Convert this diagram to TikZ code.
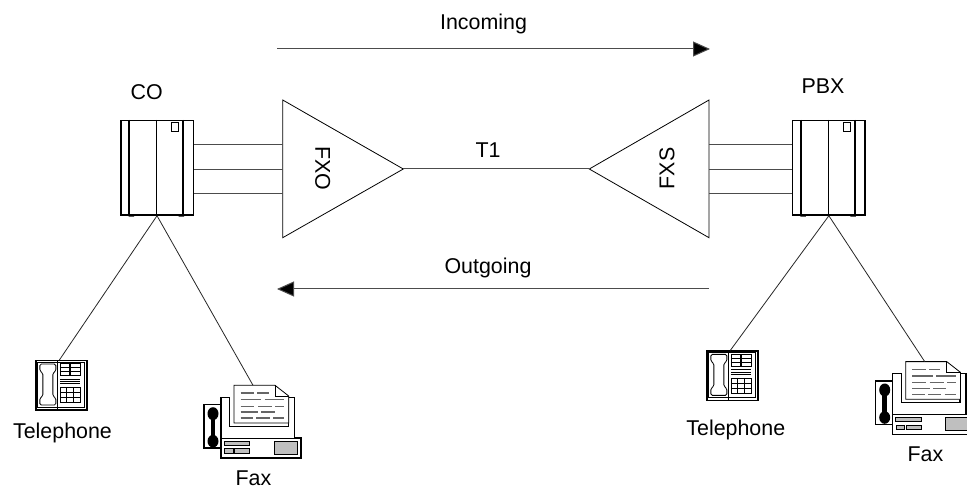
\documentclass[tikz,border=0pt]{standalone}
\usepackage{fontspec}
\setmainfont{Liberation Sans}
\usetikzlibrary{arrows.meta}
\tikzset{
  lbl/.style={font=\fontsize{21.4}{24}\selectfont, inner sep=0pt, anchor=base},
  wire/.style={line width=0.8pt, draw=black!85},
  bus/.style={line width=1pt, draw=black!70},
  flow/.style={line width=1pt, draw=black!70, -{Triangle[length=17pt,width=15pt,fill=black]}},
  cab/.style={draw, line width=1.5pt, minimum width=72.5pt, minimum height=94.3pt, inner sep=0pt, fill=white},
  phonebox/.style={draw, line width=1.3pt, minimum width=51pt, minimum height=49.3pt, inner sep=0pt, fill=white},
  tri/.style={draw, line width=0.8pt, fill=white},
  cabdet/.pic={
    \draw[line width=1.8pt] (9.3,0) -- (9.3,94.3) (63.2,0) -- (63.2,94.3);
    \draw[line width=0.8pt] (36.8,0) -- (36.8,94.3);
    \draw[line width=0.7pt] (51,2.5) rectangle (58,11.3);
    \fill (8.5,94.3) rectangle (14,96.8) (58.5,94.3) rectangle (64,96.8);
  },
  phone/.pic={
    \draw[line width=0.5pt] (2.3,2.3) rectangle (48.7,47);
    \draw[line width=0.8pt] (22.3,0) -- (22.3,49.3);
    \draw[line width=0.8pt, fill=white, rounded corners=1.5pt]
      (4.5,4) -- (20.5,4) -- (20.5,11) -- (17.5,13) -- (17.5,36) -- (20.5,38) -- (20.5,45)
      -- (4.5,45) -- (4.5,38) -- (7.5,36) -- (7.5,13) -- (4.5,11) -- cycle;
    \draw[line width=0.6pt] (24.5,3.5) rectangle (33.5,15.5) (35,3.5) rectangle (44.5,15.5);
    \draw[line width=0.5pt] (24.5,7.5) -- (44.5,7.5) (24.5,11.5) -- (44.5,11.5);
    \draw[line width=1pt] (24.5,19.5) -- (44.5,19.5) (24.5,21.7) -- (44.5,21.7) (24.5,23.9) -- (44.5,23.9);
    \draw[line width=0.6pt] (24.5,27.5) rectangle (44.5,42.5);
    \draw[line width=0.5pt] (31.2,27.5) -- (31.2,42.5) (37.8,27.5) -- (37.8,42.5)
      (24.5,32.5) -- (44.5,32.5) (24.5,37.5) -- (44.5,37.5);
    \coordinate (-top) at (24,0);
  },
  fax/.pic={
    \draw[line width=1.3pt, fill=white] (17,53.3) -- (17,-7.4) -- (25.7,-7.4) -- (25.7,21.6)
      -- (84.3,21.6) -- (84.3,-7.4) -- (90.3,-7.4) -- (90.3,33.3) -- (97,33.3) -- (97,53.3) -- cycle;
    \draw[line width=1pt] (17,33.3) -- (97,33.3);
    \draw[line width=1.3pt, fill=white] (0,0) rectangle (17,43.3);
    \fill (9,9) ellipse (5.5 and 6.5) (9,36.5) ellipse (5.5 and 6.3);
    \draw[line width=4.5pt] (9,9) -- (9,36.5);
    \draw[line width=0.8pt, fill=white] (30,-19.4) -- (71,-19.4) -- (84.7,-8.7) -- (84.7,18.3) -- (30,18.3) -- cycle;
    \draw[line width=0.8pt] (71,-19.4) -- (71,-8.7) -- (84.7,-8.7);
    \draw[line width=1.2pt, black!60]
      (36.7,-11.7) -- (50,-11.7) (53.3,-11.7) -- (64.7,-11.7)
      (36.7,-5) -- (57.3,-5) (60.7,-5) -- (80,-5)
      (36.7,1.6) -- (50,1.6) (54,1.6) -- (68,1.6) (71.3,1.6) -- (80,1.6)
      (36.7,7.3) -- (54,7.3) (57.3,7.3) -- (70.7,7.3)
      (36.7,13.3) -- (49,13.3) (52.3,13.3) -- (65.7,13.3) (69,13.3) -- (80,13.3);
    \draw[line width=0.6pt, fill=black!25] (20,36.6) rectangle (45.7,40.6) (20.7,44) rectangle (29,48.3)
      (30.7,44) rectangle (45.7,48.3) (70,36.6) rectangle (93.3,49.3);
    \coordinate (-top) at (49,-19.4);
  }
}
\begin{document}
\begin{tikzpicture}[x=1pt,y=-1pt]
\useasboundingbox (0,0) rectangle (967,489);
\begin{scope}
\clip (0,0) rectangle (967,489);

% cabinets
\node[cab] (co) at (157,167.85) {};
\pic at (co.north west) {cabdet};
\node[cab] (pbx) at (828.85,167.85) {};
\pic at (pbx.north west) {cabdet};

% triangles
\coordinate (fxoT) at (282.7,100);
\coordinate (fxoB) at (282.7,237.7);
\coordinate (fxoA) at (403.3,169);
\coordinate (fxsT) at (709,100);
\coordinate (fxsB) at (709,237.7);
\coordinate (fxsA) at (589.3,169);
\draw[tri] (fxoT) -- (fxoA) -- (fxoB) -- cycle;
\draw[tri] (fxsT) -- (fxsA) -- (fxsB) -- cycle;
\node[lbl, anchor=center, rotate=-90] (fxo) at (322.7,168.5) {FXO};
\node[lbl, anchor=center, rotate=90] (fxs) at (667,168.5) {FXS};

% trunk wires
\foreach \yy in {145,169.3,193.3} {
  \draw[bus] (co.east |- 0,\yy) -- (fxoT |- 0,\yy);
  \draw[bus] (fxsT |- 0,\yy) -- (pbx.west |- 0,\yy);
}
\draw[bus] (fxoA) -- (fxsA);
\node[lbl] (t1) at (488,157.5) {T1};

% flow arrows
\coordinate (inS) at (277,49);
\coordinate (inE) at (710,49);
\coordinate (outS) at (709,289);
\coordinate (outE) at (277,289);
\draw[flow] (inS) -- (inE);
\draw[flow] (outS) -- (outE);
\node[lbl] (inlbl) at (483.5,29.3) {Incoming};
\node[lbl] (outlbl) at (488,273.3) {Outgoing};

% devices
\node[phonebox] (tel1) at (61.5,385.35) {};
\pic (t1p) at (tel1.north west) {phone};
\node[phonebox] (tel2) at (732.5,375.65) {};
\pic (t2p) at (tel2.north west) {phone};
\pic (fax1) at (204,404.7) {fax};
\pic (fax2) at (875.7,381) {fax};

\draw[wire] (co.south) -- (t1p-top);
\draw[wire] (co.south) -- (fax1-top);
\draw[wire] (pbx.south) -- (t2p-top);
\draw[wire] (pbx.south) -- (fax2-top);

% labels
\node[lbl] (colbl) at (146.7,100) {CO};
\node[lbl] (pbxlbl) at (823,93.3) {PBX};
\node[lbl] (tel1lbl) at (62.5,438.3) {Telephone};
\node[lbl] (tel2lbl) at (735.8,435) {Telephone};
\node[lbl] (fax1lbl) at (253.5,485) {Fax};
\node[lbl] (fax2lbl) at (925.5,461.7) {Fax};
\end{scope}
\end{tikzpicture}
\end{document}
